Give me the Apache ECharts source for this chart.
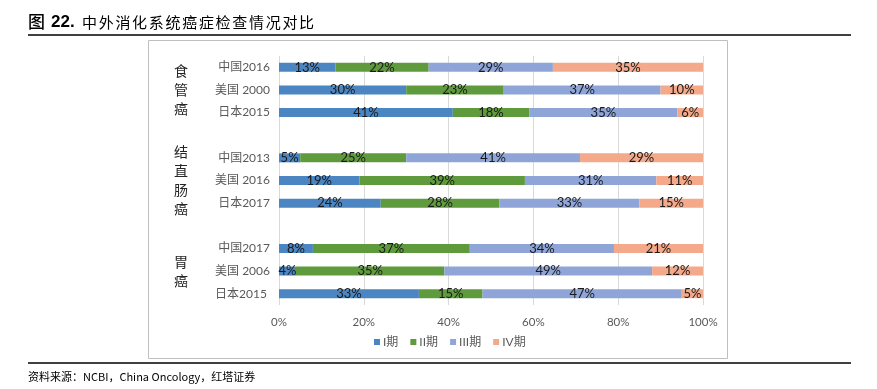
<!DOCTYPE html>
<html>
<head>
<meta charset="utf-8">
<script src="https://cdn.jsdelivr.net/npm/echarts@6/dist/echarts.min.js"></script>
<style>
html,body{margin:0;padding:0;background:#fff;}
#c{width:877px;height:389px;}
</style>
</head>
<body>
<div id="c"></div>
<script>
// Categories (top to bottom); empty strings are spacer rows between cancer groups
const categories = ['中国2016', '美国 2000', '日本2015', '', '中国2013', '美国 2016', '日本2017', '', '中国2017', '美国 2006', '日本2015 '];
const seriesNames = ['I期', 'II期', 'III期', 'IV期'];
// Stage shares (%) per row
const stageI   = [13.3, 30, 41, null, 5, 19, 24, null, 8, 4, 33];
const stageII  = [22.0, 23, 18, null, 25, 39, 28, null, 37, 35, 15];
const stageIII = [29.3, 37, 35, null, 41, 31, 33, null, 34, 49, 47];
const stageIV  = [35.4, 10, 6, null, 29, 11, 15, null, 21, 12, 5];
const xTicks = [0, 20, 40, 60, 80, 100];
const groupLabels = ['食管癌', '结直肠癌', '胃癌'];
const groupRows = [1, 5, 9]; // middle row index of each group
const titleText = '中外消化系统癌症检查情况对比';

const colors = ['#4b86c2', '#5f9b3d', '#8fa5d8', '#f4a98a'];
const fontF = 'Lato, "Noto Sans CJK SC", sans-serif';
const chart = echarts.init(document.getElementById('c'));

const allData = [stageI, stageII, stageIII, stageIV];
const series = allData.map((d, i) => ({
  name: seriesNames[i],
  type: 'bar',
  stack: 'total',
  barWidth: 9,
  data: d,
  itemStyle: { color: colors[i] },
  label: {
    show: true,
    position: 'inside',
    color: '#1a1a1a',
    fontSize: 13,
    fontFamily: fontF,
    formatter: p => p.value == null ? '' : Math.round(p.value) + '%'
  },
  emphasis: { disabled: true },
  animation: false
}));

const option = {
  animation: false,
  grid: { left: 279, right: 174, top: 56, bottom: 84 },
  legend: {
    data: seriesNames,
    left: 369,
    top: 331,
    itemWidth: 6,
    itemHeight: 6,
    itemGap: 12,
    icon: 'rect',
    textStyle: { color: '#595959', fontSize: 12, fontFamily: fontF, padding: [0, 0, 0, -2] }
  },
  xAxis: {
    type: 'value',
    min: xTicks[0],
    max: xTicks[xTicks.length - 1],
    interval: 20,
    axisLine: { show: false },
    axisTick: { show: false },
    splitLine: { show: true, lineStyle: { color: '#d9d9d9', width: 1 } },
    axisLabel: { color: '#595959', fontSize: 11.5, fontFamily: fontF, margin: 12, formatter: '{value}%' }
  },
  yAxis: {
    type: 'category',
    inverse: true,
    data: categories,
    axisLine: { show: false },
    axisTick: { show: false },
    axisLabel: { color: '#595959', fontSize: 12, fontFamily: fontF, margin: 9 }
  },
  series: series,
  graphic: []
};
chart.setOption(option);

const graphics = [
  { type: 'text', x: 28, y: 22, style: { text: '图', font: '500 17px "Noto Sans CJK SC", sans-serif', fill: '#000', verticalAlign: 'middle' } },
  { type: 'text', x: 51, y: 22.5, style: { text: '22.', font: 'bold 17px "Liberation Sans", Arial, sans-serif', fill: '#000', verticalAlign: 'middle' } },
  { type: 'line', shape: { x1: 28, y1: 35, x2: 851, y2: 35 }, style: { stroke: '#000', lineWidth: 1.5 } },
  { type: 'rect', shape: { x: 148.5, y: 40.5, width: 579, height: 318 }, style: { fill: 'none', stroke: '#bfbfbf', lineWidth: 1 } },
  { type: 'line', shape: { x1: 28, y1: 363, x2: 851, y2: 363 }, style: { stroke: '#000', lineWidth: 1.5 } },
  { type: 'text', left: 28, top: 371, style: { text: '资料来源：NCBI，China Oncology，红塔证券', font: '11px "Noto Sans CJK SC", sans-serif', fill: '#000' } }
];
titleText.split('').forEach((ch, i) => {
  graphics.push({ type: 'text', x: 82 + i * 16.7, y: 22, style: { text: ch, font: '15px "Noto Sans CJK SC", sans-serif', fill: '#000', verticalAlign: 'middle' } });
});
groupLabels.forEach((g, i) => {
  const yc = chart.convertToPixel({ yAxisIndex: 0 }, categories[groupRows[i]]);
  const chars = g.split('');
  const lh = 19;
  const y0 = yc - (chars.length * lh) / 2;
  graphics.push({
    type: 'text',
    x: 181,
    y: y0,
    style: { text: chars.join('\n'), font: '14px "Noto Sans CJK SC", sans-serif', fill: '#262626', lineHeight: lh, align: 'center', verticalAlign: 'top' }
  });
});
chart.setOption({ graphic: graphics });
</script>
</body>
</html>
